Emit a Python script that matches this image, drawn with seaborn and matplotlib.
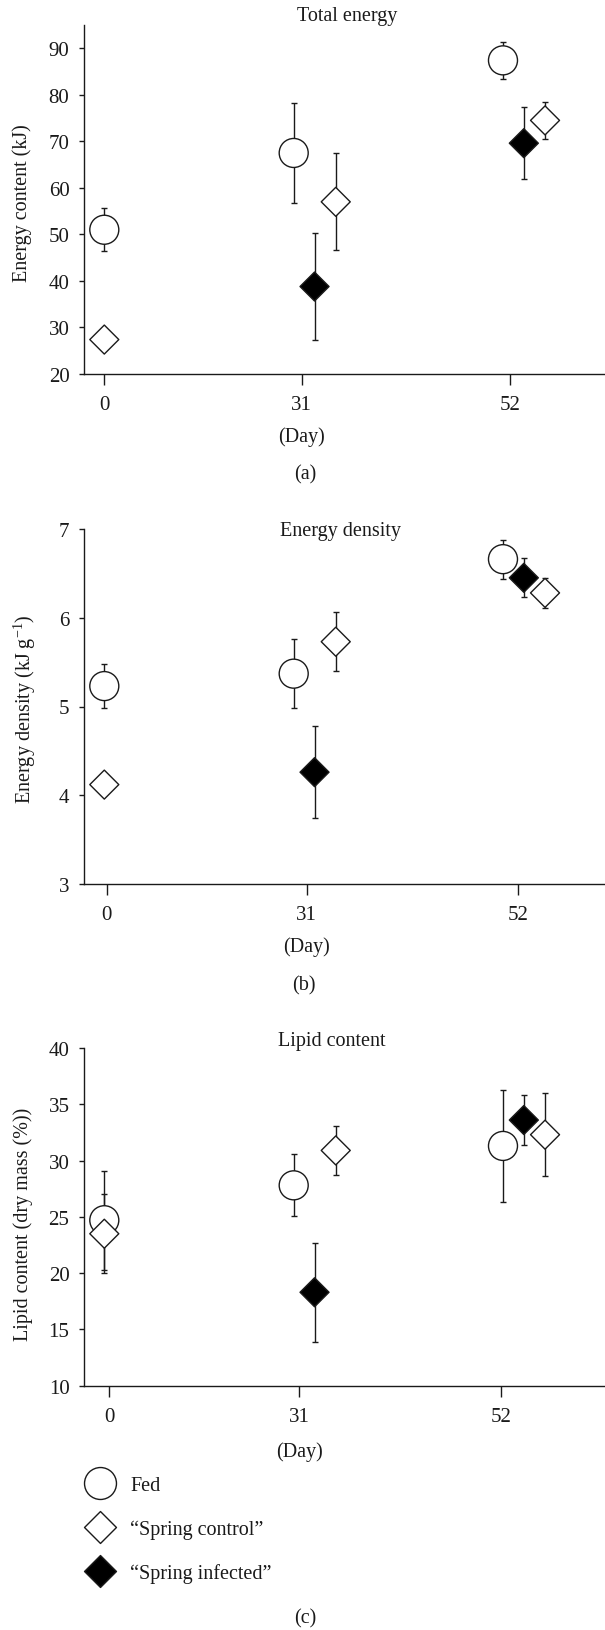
import numpy as np
import pandas as pd
import matplotlib
matplotlib.use("Agg")
import matplotlib.pyplot as plt
import matplotlib.transforms as mtransforms
from matplotlib.path import Path
from matplotlib.lines import Line2D
import seaborn as sns

# ---------------- data ----------------
days = ["0", "31", "52"]
infected_days = ["31", "52"]
groups = ["Fed", "\u201cSpring control\u201d", "\u201cSpring infected\u201d"]

# (a) Total energy (kJ)
energy_fed = [51.0, 67.5, 87.4]
energy_fed_err = [4.6, 10.7, 3.9]
energy_ctrl = [27.4, 57.0, 74.5]
energy_ctrl_err = [2.0, 10.4, 4.0]
energy_inf = [38.8, 69.6]
energy_inf_err = [11.5, 7.8]

# (b) Energy density (kJ g-1)
density_fed = [5.23, 5.37, 6.66]
density_fed_err = [0.25, 0.39, 0.22]
density_ctrl = [4.12, 5.73, 6.28]
density_ctrl_err = [0.10, 0.33, 0.17]
density_inf = [4.26, 6.45]
density_inf_err = [0.52, 0.22]

# (c) Lipid content (% dry mass)
lipid_fed = [24.7, 27.8, 31.3]
lipid_fed_err = [4.4, 2.75, 5.0]
lipid_ctrl = [23.5, 30.9, 32.3]
lipid_ctrl_err = [3.5, 2.2, 3.7]
lipid_inf = [18.3, 33.6]
lipid_inf_err = [4.4, 2.2]

panel_titles = ["Total energy", "Energy density", "Lipid content"]
panel_ylabels = ["Energy content (kJ)", "Energy density (kJ g$^{-1}$)",
                 "Lipid content (dry mass (%))"]
panel_letters = ["(a)", "(b)", "(c)"]
yticks_a = [20, 30, 40, 50, 60, 70, 80, 90]
yticks_b = [3, 4, 5, 6, 7]
yticks_c = [10, 15, 20, 25, 30, 35, 40]

# ---------------- layout / style ----------------
W, H = 605, 1631
day_slot = {"0": 0.0, "31": 1.0, "52": 2.105}
dodge = {groups[0]: 0.0, groups[1]: 0.222, groups[2]: 0.11}
tick_pos = [[0.0, 1.042, 2.143], [0.013, 1.069, 2.186], [0.026, 1.030, 2.097]]
ylims = [(20, 95), (3, 7), (10, 40)]
ax_px = [(26, 375), (530, 885), (1049, 1386.7)]  # top, bottom in px
title_px = [(346.7, 16.7), (340.7, 531.7), (332, 1041.7)]
ylabel_px = [(21.7, 203.3), (25, 709), (23.3, 1224)]
day_y = [436.7, 946.7, 1451.7]
letter_px = [(305, 475), (304, 986), (304.8, 1619)]

sns.set_theme(style="ticks")
plt.rcParams["font.family"] = ["Liberation Serif", "DejaVu Serif"]
plt.rcParams["mathtext.fontset"] = "custom"
plt.rcParams["mathtext.rm"] = "Liberation Serif"
plt.rcParams["mathtext.it"] = "Liberation Serif:italic"
plt.rcParams["mathtext.default"] = "regular"

FS = 14.5
TFS = 15
INK = "#1a1a1a"

diamond = Path([(0, 1), (1, 0), (0, -1), (-1, 0), (0, 1)],
               [Path.MOVETO, Path.LINETO, Path.LINETO, Path.LINETO, Path.CLOSEPOLY])
markers = {groups[0]: "o", groups[1]: diamond, groups[2]: diamond}
palette = {groups[0]: "white", groups[1]: "white", groups[2]: "black"}


def build(fed, fed_e, ctrl, ctrl_e, inf, inf_e):
    rows = []
    for d, v, e in zip(days, fed, fed_e):
        rows.append((groups[0], d, v, e))
    for d, v, e in zip(infected_days, inf, inf_e):
        rows.append((groups[2], d, v, e))
    for d, v, e in zip(days, ctrl, ctrl_e):
        rows.append((groups[1], d, v, e))
    df = pd.DataFrame(rows, columns=["group", "day", "value", "err"])
    df["x"] = [day_slot[d] + (0.0 if d == "0" else dodge[g])
               for g, d in zip(df["group"], df["day"])]
    return df


panels = [
    build(energy_fed, energy_fed_err, energy_ctrl, energy_ctrl_err, energy_inf, energy_inf_err),
    build(density_fed, density_fed_err, density_ctrl, density_ctrl_err, density_inf, density_inf_err),
    build(lipid_fed, lipid_fed_err, lipid_ctrl, lipid_ctrl_err, lipid_inf, lipid_inf_err),
]
yticks_all = [yticks_a, yticks_b, yticks_c]

fig = plt.figure(figsize=(W / 100, H / 100), dpi=100)
fig.patch.set_facecolor("white")

left_px = 83.5
xlim = ((left_px - 104.3) / 189.4, (W - 104.3) / 189.4)

for i, df in enumerate(panels):
    top, bot = ax_px[i]
    ax = fig.add_axes([left_px / W, 1 - bot / H, 1 - left_px / W, (bot - top) / H])
    ax.set_facecolor("white")
    ax.errorbar(df["x"], df["value"], yerr=df["err"], fmt="none", ecolor=INK,
                elinewidth=1.0, capsize=2.5, capthick=1.0, zorder=1)
    sns.scatterplot(data=df, x="x", y="value", hue="group", style="group",
                    hue_order=groups, style_order=groups, markers=markers,
                    palette=palette, s=436, edgecolor=INK, linewidth=1.0,
                    legend=False, zorder=3, ax=ax, clip_on=False)
    ax.set_xlim(*xlim)
    ax.set_ylim(*ylims[i])
    ax.set_xticks(tick_pos[i])
    ax.set_xticklabels(days)
    ax.set_yticks(yticks_all[i])
    ax.set_yticklabels([str(t) for t in yticks_all[i]])
    ax.set_xlabel("")
    ax.set_ylabel("")
    for s in ["top", "right"]:
        ax.spines[s].set_visible(False)
    for s in ["left", "bottom"]:
        ax.spines[s].set_color(INK)
        ax.spines[s].set_linewidth(1.0)
    ax.tick_params(axis="y", length=3.6, width=1.0, pad=6.5, direction="out",
                   labelsize=TFS, colors=INK)
    ax.tick_params(axis="x", length=7.6, width=1.0, pad=7.5, direction="out",
                   labelsize=TFS, colors=INK)

    tx, ty = title_px[i]
    fig.text(tx / W, 1 - ty / H, panel_titles[i], ha="center", va="center",
             fontsize=FS, color=INK)
    lx, ly = ylabel_px[i]
    fig.text(lx / W, 1 - ly / H, panel_ylabels[i], ha="center", va="center",
             rotation=90, fontsize=FS, color=INK)
    trans = mtransforms.blended_transform_factory(ax.transData, fig.transFigure)
    ax.text(tick_pos[i][1], 1 - day_y[i] / H, "(Day)", transform=trans,
            ha="center", va="center", fontsize=FS, color=INK)
    px, py = letter_px[i]
    fig.text(px / W, 1 - py / H, panel_letters[i], ha="center", va="center",
             fontsize=FS, color=INK)

# legend
handles = [
    Line2D([], [], linestyle="none", marker=markers[g], markersize=23,
           markerfacecolor=palette[g], markeredgecolor=INK, markeredgewidth=1.0)
    for g in groups
]
fig.legend(handles, groups, loc="center left",
           bbox_to_anchor=(83.95 / W, 1 - 1530.5 / H), frameon=False,
           fontsize=FS, handlelength=1.55, handletextpad=0.75, labelspacing=1.2,
           borderpad=0, borderaxespad=0, labelcolor=INK)

fig.savefig("out.png", dpi=100, facecolor="white")
